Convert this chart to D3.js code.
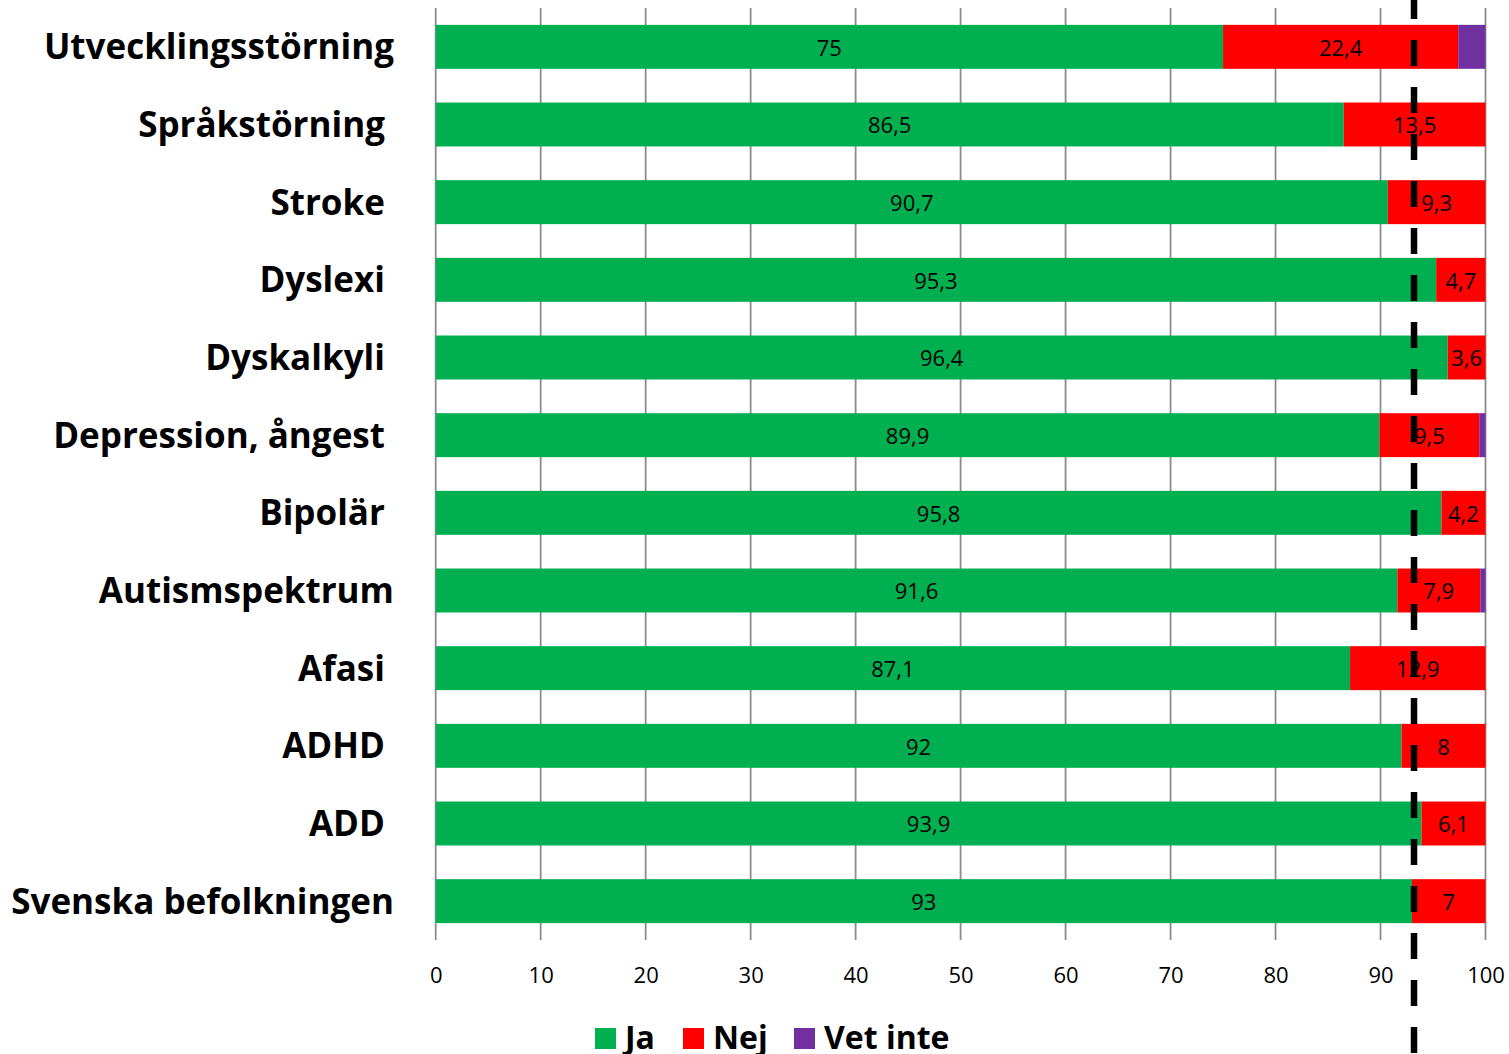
<!DOCTYPE html>
<html><head><meta charset="utf-8">
<script src="https://cdn.jsdelivr.net/npm/d3@7"></script>
<style>
html,body{margin:0;padding:0;background:#fff;}
svg{display:block;}
text{font-family:"Open Sans",sans-serif;}
</style></head>
<body>
<svg id="chart" width="1509" height="1054"></svg>
<script>
const categories = ["Utvecklingsstörning","Språkstörning ","Stroke ","Dyslexi ","Dyskalkyli ","Depression, ångest ","Bipolär ","Autismspektrum","Afasi ","ADHD ","ADD ","Svenska befolkningen"];
const ja      = [75, 86.5, 90.7, 95.3, 96.4, 89.9, 95.8, 91.6, 87.1, 92, 93.9, 93];
const nej     = [22.4, 13.5, 9.3, 4.7, 3.6, 9.5, 4.2, 7.9, 12.9, 8, 6.1, 7];
const vetInte = [2.6, 0, 0, 0, 0, 0.6, 0, 0.5, 0, 0, 0, 0];
const seriesNames = ["Ja","Nej","Vet inte"];
const seriesColors = ["#00B050","#FF0000","#7030A0"];
const xTicks = [0,10,20,30,40,50,60,70,80,90,100];
const referenceValue = 93;

const svg = d3.select("#chart");
const x = d3.scaleLinear().domain([0,100]).range([435.7,1485.5]);
const y = d3.scaleBand().domain(categories).range([8,940]).paddingInner(0.434).paddingOuter(0.217);

// gridlines
svg.append("g").selectAll("line").data(xTicks).join("line")
  .attr("x1",d=>x(d)).attr("x2",d=>x(d)).attr("y1",8).attr("y2",940)
  .attr("stroke","#8c8c8c").attr("stroke-width",1.8);

// axis labels
const xAxis = d3.axisBottom(x).tickValues(xTicks).tickSize(0).tickPadding(0).tickFormat(d3.format("d"));
const ax = svg.append("g").attr("transform","translate(0,967)").call(xAxis);
ax.select(".domain").remove();
ax.selectAll("text").attr("font-size",22).attr("font-family","Open Sans").attr("fill","#000").attr("dy","0.71em");

const stackData = categories.map((c,i)=>({cat:c, "Ja":ja[i], "Nej":nej[i], "Vet inte":vetInte[i]}));
const stacked = d3.stack().keys(seriesNames)(stackData);

const groups = svg.append("g").selectAll("g").data(stacked).join("g")
  .attr("fill",(d,i)=>seriesColors[i]);
groups.selectAll("rect").data(d=>d).join("rect")
  .attr("x",d=>x(d[0])).attr("width",d=>x(d[1])-x(d[0]))
  .attr("y",d=>y(d.data.cat)).attr("height",y.bandwidth());

// value labels (Ja, Nej)
const fmt = v => String(v).replace(".",",");
stacked.slice(0,2).forEach(s=>{
  svg.append("g").selectAll("text").data(s).join("text")
    .attr("x",d=>(x(d[0])+x(d[1]))/2)
    .attr("y",d=>y(d.data.cat)+y.bandwidth()/2)
    .attr("dy","0.4em")
    .attr("text-anchor","middle").attr("font-size",22).attr("fill","#000")
    .text(d=>fmt(+(d[1]-d[0]).toFixed(1)));
});

// category labels
svg.append("g").selectAll("text").data(categories).join("text")
  .attr("x",394).attr("y",d=>y(d)+y.bandwidth()/2).attr("dy","0.36em")
  .attr("text-anchor","end").attr("font-size",35).attr("font-weight","bold")
  .style("white-space","pre").attr("xml:space","preserve")
  .text(d=>d);

// dashed reference line
svg.append("line").attr("x1",x(referenceValue)+2).attr("x2",x(referenceValue)+2)
  .attr("y1",0).attr("y2",1054).attr("stroke","#000").attr("stroke-width",6.5)
  .attr("stroke-dasharray","26,21").attr("stroke-dashoffset",7);

// legend
const legendX = [595, 683, 794];
const lg = svg.append("g").selectAll("g").data(seriesNames).join("g")
  .attr("transform",(d,i)=>`translate(${legendX[i]},1028)`);
lg.append("rect").attr("width",21).attr("height",21).attr("fill",(d,i)=>seriesColors[i]);
lg.append("text").attr("x",30).attr("y",9).attr("dy","0.36em")
  .attr("font-size",32).attr("font-weight","bold").text(d=>d);
</script>
</body></html>
